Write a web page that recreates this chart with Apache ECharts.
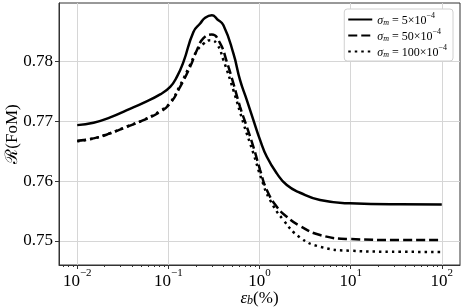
<!DOCTYPE html>
<html>
<head>
<meta charset="utf-8">
<script src="https://cdn.jsdelivr.net/npm/echarts@6/dist/echarts.min.js"></script>
<style>html,body{margin:0;padding:0;background:#fff}#c{width:463px;height:308px}</style>
</head>
<body>
<div id="c"></div>
<script>
// ---- data (x = eps_b in %, y = R(FoM)) ----
const seriesNames = ['s5', 's50', 's100'];
const legendLabels = ['5', '50', '100'];

const epsSolid = [0.01, 0.0151, 0.023, 0.0351, 0.0533, 0.0813, 0.1047, 0.124, 0.1465, 0.1884, 0.2233, 0.2535, 0.300, 0.343, 0.402, 0.517, 0.612, 0.726, 0.857, 1.016, 1.203, 1.548, 1.992, 2.787, 4.615, 9.84, 34.8, 100];
const valSolid = [0.76933, 0.76972, 0.77062, 0.77183, 0.77305, 0.77445, 0.77572, 0.77738, 0.77988, 0.78488, 0.78628, 0.78725, 0.78767, 0.78700, 0.78600, 0.78128, 0.77683, 0.77350, 0.77017, 0.76683, 0.76405, 0.76128, 0.75933, 0.75805, 0.75683, 0.75628, 0.75612, 0.75610];

const epsDashed = [0.01, 0.0151, 0.023, 0.0351, 0.0533, 0.0813, 0.1047, 0.1346, 0.1733, 0.2055, 0.2428, 0.300, 0.370, 0.438, 0.517, 0.612, 0.726, 0.857, 1.016, 1.203, 1.548, 1.992, 2.787, 4.615, 9.84, 34.8, 100];
const valDashed = [0.76672, 0.76712, 0.76795, 0.76905, 0.77017, 0.77155, 0.77295, 0.77572, 0.77905, 0.78183, 0.78383, 0.78445, 0.78295, 0.77988, 0.77628, 0.77238, 0.76905, 0.76572, 0.76183, 0.75850, 0.75572, 0.75405, 0.75250, 0.75100, 0.75033, 0.75017, 0.75017];

const epsDotted = [0.01, 0.0151, 0.023, 0.0351, 0.0533, 0.0813, 0.1047, 0.1346, 0.1733, 0.2055, 0.2428, 0.290, 0.343, 0.402, 0.517, 0.667, 0.857, 1.06, 1.306, 1.828, 2.787, 4.615, 9.84, 34.8, 100];
const valDotted = [0.76662, 0.76710, 0.76800, 0.76910, 0.77020, 0.77170, 0.77310, 0.77600, 0.77940, 0.78170, 0.78290, 0.78350, 0.78280, 0.78017, 0.77517, 0.76962, 0.76462, 0.76017, 0.75683, 0.75350, 0.75060, 0.74905, 0.74838, 0.74820, 0.74818];

const xTickExponents = [-2, -1, 0, 1, 2];
const minorMultipliers = [2, 3, 4, 5, 6, 7, 8, 9];
const yTickValues = [0.75, 0.76, 0.77, 0.78];

// ---- chart ----
const SERIF = '"Liberation Serif","DejaVu Serif",serif';
const toPts = (xs, ys) => xs.map((e, i) => [Math.log10(e), ys[i]]);
const minorTicks = [];
for (let d = -3; d <= 2; d++) minorMultipliers.forEach(m => {
  const v = d + Math.log10(m);
  if (v > -2.2 && v < 2.2) minorTicks.push(v);
});

const chart = echarts.init(document.getElementById('c'), null, {renderer: 'canvas'});
const lineBase = {type: 'line', symbol: 'none', smooth: 0.5, xAxisIndex: 0, yAxisIndex: 0, animation: false};
chart.setOption({
  animation: false,
  grid: {left: 59, right: 3, top: 3, bottom: 43, show: true, borderColor: '#333', borderWidth: 1, backgroundColor: '#fff', outerBoundsMode: 'none'},
  legend: {
    orient: 'vertical', right: 10, top: 9, padding: [3, 6, 2, 3], itemGap: 1,
    itemWidth: 24, itemHeight: 14, backgroundColor: '#fff', borderColor: '#d0d0d0', borderWidth: 1, borderRadius: 3,
    itemStyle: {opacity: 0},
    data: seriesNames,
    formatter: name => {
      const k = legendLabels[seriesNames.indexOf(name)];
      return '{g|σ}{sub|m}{t| = ' + k + '×10}{sup|−4}';
    },
    textStyle: {
      fontFamily: SERIF, fontSize: 12, color: '#000',
      rich: {
        g: {fontFamily: SERIF, fontStyle: 'italic', fontSize: 12, verticalAlign: 'bottom', lineHeight: 15},
        sub: {fontFamily: SERIF, fontStyle: 'italic', fontSize: 8, verticalAlign: 'bottom', lineHeight: 11},
        t: {fontFamily: SERIF, fontSize: 12, verticalAlign: 'bottom', lineHeight: 15},
        sup: {fontFamily: SERIF, fontSize: 8, verticalAlign: 'top', lineHeight: 11}
      }
    }
  },
  xAxis: [{
    type: 'value', min: -2.2, max: 2.2, position: 'bottom',
    name: '{e|ε}{b|b}{n|(%)}', nameLocation: 'middle', nameGap: 22, nameMoveOverlap: false,
    nameTextStyle: {
      color: '#000',
      rich: {
        e: {fontFamily: SERIF, fontStyle: 'italic', fontSize: 17, verticalAlign: 'bottom', lineHeight: 20},
        b: {fontFamily: SERIF, fontStyle: 'italic', fontSize: 12, verticalAlign: 'bottom', lineHeight: 16},
        n: {fontFamily: SERIF, fontSize: 17, verticalAlign: 'bottom', lineHeight: 20}
      }
    },
    axisLine: {show: true, onZero: false, lineStyle: {color: '#333', width: 1}},
    axisTick: {show: true, customValues: xTickExponents, length: 4, lineStyle: {color: '#333'}},
    axisLabel: {
      customValues: xTickExponents, margin: 3, color: '#000',
      formatter: v => '{b|10}{s|' + (Math.round(v) < 0 ? '−' + Math.abs(Math.round(v)) : Math.round(v)) + '}',
      rich: {
        b: {fontFamily: SERIF, fontSize: 17, verticalAlign: 'bottom', lineHeight: 22, color: '#000'},
        s: {fontFamily: SERIF, fontSize: 11, verticalAlign: 'top', lineHeight: 12, color: '#000'}
      }
    },
    splitLine: {show: true, lineStyle: {color: '#d6d6d6', width: 1}}
  }, {
    type: 'value', min: -2.2, max: 2.2, position: 'bottom',
    axisLine: {show: false, onZero: false}, axisLabel: {show: false}, splitLine: {show: false},
    axisTick: {show: true, customValues: minorTicks, length: 2, lineStyle: {color: '#333'}}
  }],
  yAxis: {
    type: 'value', min: 0.746, max: 0.7897,
    name: 'ℛ(FoM)', nameLocation: 'middle', nameGap: 38, nameMoveOverlap: false,
    nameTextStyle: {fontFamily: SERIF, fontSize: 17, color: '#000'},
    axisLine: {show: true, onZero: false, lineStyle: {color: '#333', width: 1}},
    axisTick: {show: true, customValues: yTickValues, length: 4, lineStyle: {color: '#333'}},
    axisLabel: {customValues: yTickValues, margin: 6, fontFamily: SERIF, fontSize: 17, color: '#000', formatter: v => v.toFixed(2)},
    splitLine: {show: true, lineStyle: {color: '#d6d6d6', width: 1}}
  },
  series: [
    Object.assign({}, lineBase, {name: seriesNames[0], data: toPts(epsSolid, valSolid), lineStyle: {color: '#000', width: 2.5, type: 'solid'}, itemStyle: {color: '#000'}, z: 4}),
    Object.assign({}, lineBase, {name: seriesNames[1], data: toPts(epsDashed, valDashed), lineStyle: {color: '#000', width: 2.5, type: [9, 4]}, itemStyle: {color: '#000'}, z: 3}),
    Object.assign({}, lineBase, {name: seriesNames[2], data: toPts(epsDotted, valDotted), lineStyle: {color: '#000', width: 2.5, type: [2.5, 4]}, itemStyle: {color: '#000'}, z: 2})
  ]
});
</script>
</body>
</html>
